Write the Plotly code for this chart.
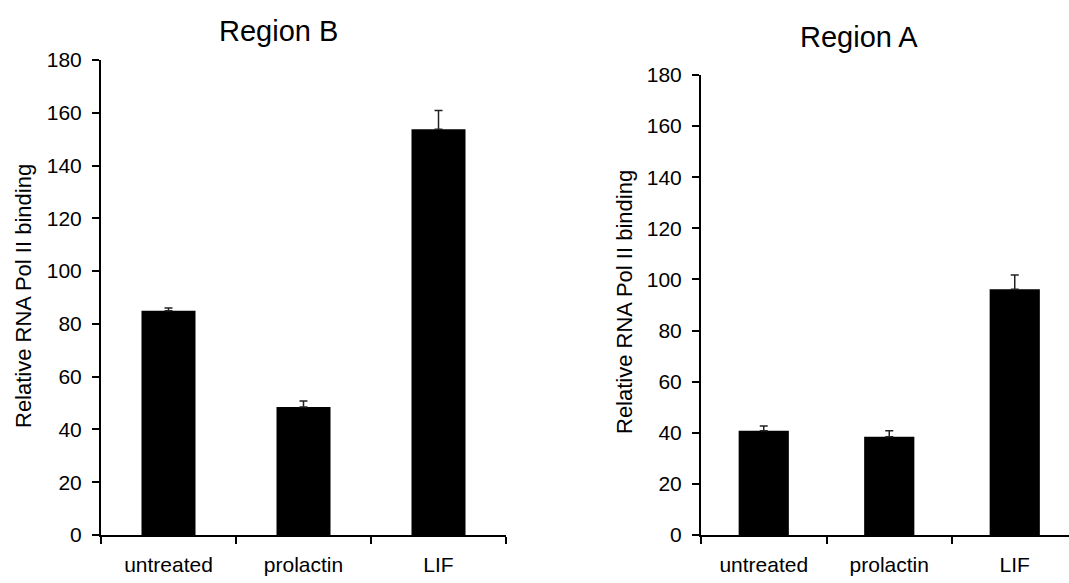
import plotly.graph_objects as go

categories = ["untreated", "prolactin", "LIF"]
region_b_values = [85.0, 48.5, 153.8]
region_b_errors = [1.0, 2.3, 7.1]
region_a_values = [40.8, 38.4, 96.2]
region_a_errors = [1.9, 2.4, 5.5]
y_ticks = [0, 20, 40, 60, 80, 100, 120, 140, 160, 180]

FONT = "Liberation Sans, Arial, sans-serif"
W, H = 1069, 583

fig = go.Figure()

def add_bars(vals, errs, xa, ya):
    fig.add_trace(go.Bar(
        x=categories, y=vals, xaxis=xa, yaxis=ya, width=0.4,
        marker=dict(color="black", line=dict(width=0)),
        error_y=dict(type="data", symmetric=False, array=errs,
                     arrayminus=[0] * len(errs), color="#222222",
                     thickness=1.5, width=4),
        showlegend=False,
    ))

add_bars(region_b_values, region_b_errors, "x", "y")
add_bars(region_a_values, region_a_errors, "x2", "y2")

common_x = dict(type="category", showline=True, linecolor="black", linewidth=2,
                ticks="outside", tickson="boundaries", ticklen=7, tickwidth=2,
                tickcolor="black", showgrid=False, zeroline=False, automargin=False,
                tickfont=dict(family=FONT, size=21, color="black"),
                ticklabelstandoff=10)
common_y = dict(range=[0, 180], tickvals=y_ticks, showline=True, linecolor="black",
                linewidth=2, ticks="outside", ticklen=7, tickwidth=2,
                tickcolor="black", showgrid=False, zeroline=False, automargin=False,
                tickfont=dict(family=FONT, size=21, color="black"),
                ticklabelstandoff=6)

fig.update_layout(
    width=W, height=H, margin=dict(l=0, r=0, t=0, b=0, autoexpand=False),
    paper_bgcolor="white", plot_bgcolor="white", bargap=0.6,
    xaxis=dict(domain=[101 / W, 506 / W], range=[-0.5, 2.5], anchor="y", **common_x),
    yaxis=dict(domain=[(H - 535) / H, (H - 60) / H], anchor="x", **common_y),
    xaxis2=dict(domain=[701 / W, 1.0], range=[-0.5, -0.5 + 368 / 125.5], anchor="y2", **common_x),
    yaxis2=dict(domain=[(H - 535) / H, (H - 75) / H], anchor="x2", **common_y),
    annotations=[
        dict(text="Region B", x=278 / W, y=1 - 31 / H, xref="paper", yref="paper",
             showarrow=False, xanchor="center", yanchor="middle",
             font=dict(family=FONT, size=29, color="black")),
        dict(text="Region A", x=859 / W, y=1 - 37 / H, xref="paper", yref="paper",
             showarrow=False, xanchor="center", yanchor="middle",
             font=dict(family=FONT, size=29, color="black")),
        dict(text="Relative RNA Pol II binding", x=23 / W, y=1 - 296 / H,
             xref="paper", yref="paper", showarrow=False, textangle=-90,
             xanchor="center", yanchor="middle",
             font=dict(family=FONT, size=22, color="black")),
        dict(text="Relative RNA Pol II binding", x=624 / W, y=1 - 302 / H,
             xref="paper", yref="paper", showarrow=False, textangle=-90,
             xanchor="center", yanchor="middle",
             font=dict(family=FONT, size=22, color="black")),
    ],
)

fig.write_html("out.html")
